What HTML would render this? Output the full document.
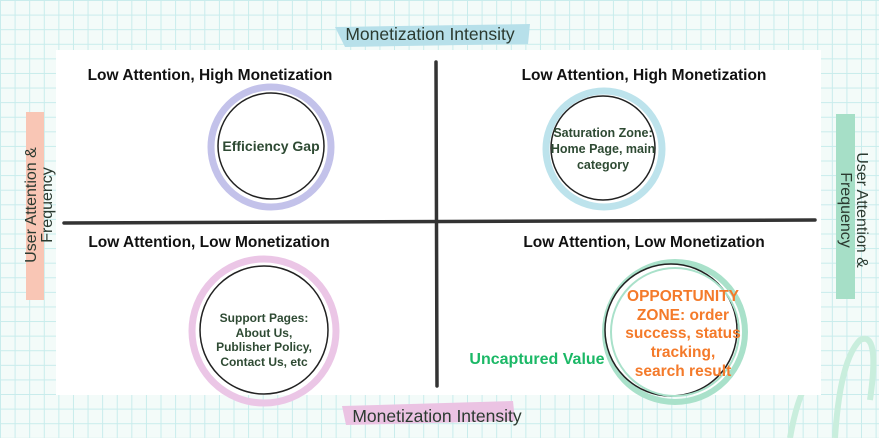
<!DOCTYPE html>
<html><head><meta charset="utf-8"><style>
html,body{margin:0;padding:0;width:879px;height:438px;overflow:hidden}
body{background-color:#f3fbf9;background-image:linear-gradient(#c8ecec 1px,transparent 1px),linear-gradient(90deg,#c8ecec 1px,transparent 1px);background-size:14.6px 14.6px}
svg{position:absolute;left:0;top:0}
text{font-family:"Liberation Sans",sans-serif}
</style></head><body>
<svg width="879" height="438" viewBox="0 0 879 438">
<path d="M790 438 Q800 380 820 370 M835 438 Q840 360 860 340 Q880 330 870 400" stroke="#c9eedd" stroke-width="6" fill="none"/>
<rect x="56" y="50" width="765" height="345" fill="#fff"/>
<path d="M335 27 L530 24 L528 44 L345 47 Z" fill="#b7e0ea"/>
<path d="M342 406 L513 401 L515 421 L346 425 Z" fill="#ebc3e3"/>
<rect x="26" y="112" width="18" height="188" fill="#f9c6b5"/>
<rect x="836" y="114" width="19" height="185" fill="#a6dfc7"/>
<text x="430" y="40" font-size="17.5" fill="#2b3a30" text-anchor="middle">Monetization Intensity</text>
<text x="437" y="422" font-size="17.5" fill="#2b3a30" text-anchor="middle">Monetization Intensity</text>
<text transform="translate(36,205) rotate(-90)" font-size="16" fill="#2b3a30" text-anchor="middle">User Attention &amp;</text>
<text transform="translate(52,205) rotate(-90)" font-size="16" fill="#2b3a30" text-anchor="middle">Frequency</text>
<text transform="translate(857,210) rotate(90)" font-size="16" fill="#2b3a30" text-anchor="middle">User Attention &amp;</text>
<text transform="translate(841,210) rotate(90)" font-size="16" fill="#2b3a30" text-anchor="middle">Frequency</text>
<line x1="64" y1="223" x2="815" y2="220" stroke="#333" stroke-width="3.5" stroke-linecap="round"/>
<line x1="436" y1="62" x2="437" y2="386" stroke="#333" stroke-width="3.5" stroke-linecap="round"/>
<g font-size="15.5" font-weight="bold" fill="#111" text-anchor="middle">
<text x="210" y="80">Low Attention, High Monetization</text>
<text x="644" y="80">Low Attention, High Monetization</text>
<text x="209" y="247">Low Attention, Low Monetization</text>
<text x="644" y="247">Low Attention, Low Monetization</text>
</g>
<circle cx="271" cy="147" r="60" fill="none" stroke="#c3c2ea" stroke-width="7"/>
<circle cx="271" cy="146" r="53" fill="#fff" stroke="#222" stroke-width="1.5"/>
<circle cx="604" cy="149" r="58" fill="none" stroke="#bde3ec" stroke-width="7"/>
<circle cx="603" cy="148" r="52" fill="#fff" stroke="#222" stroke-width="1.5"/>
<circle cx="264" cy="331" r="72" fill="none" stroke="#ebc6e6" stroke-width="7"/>
<circle cx="264" cy="330" r="64" fill="#fff" stroke="#222" stroke-width="1.5"/>
<circle cx="675" cy="332" r="70" fill="none" stroke="#a9e1ca" stroke-width="6"/>
<circle cx="671" cy="330" r="66" fill="#fff" stroke="#222" stroke-width="1.5"/>
<circle cx="675" cy="332" r="64" fill="none" stroke="#a9e1ca" stroke-width="2"/>
<g font-size="14" fill="#2e4a33" text-anchor="middle" font-weight="bold">
<text x="271" y="151">Efficiency Gap</text>
</g>
<g font-size="12.5" fill="#2e4a33" text-anchor="middle" font-weight="bold">
<text x="603" y="137">Saturation Zone:</text>
<text x="603" y="153">Home Page, main</text>
<text x="603" y="169">category</text>
</g>
<g font-size="12" fill="#2e4a33" text-anchor="middle" font-weight="bold">
<text x="264" y="322">Support Pages:</text>
<text x="264" y="337">About Us,</text>
<text x="264" y="351">Publisher Policy,</text>
<text x="264" y="366">Contact Us, etc</text>
</g>
<g font-size="15.5" fill="#f47a2a" text-anchor="middle" font-weight="bold">
<text x="683" y="301">OPPORTUNITY</text>
<text x="683" y="320">ZONE: order</text>
<text x="683" y="338">success, status</text>
<text x="683" y="357">tracking,</text>
<text x="683" y="376">search result</text>
</g>
<text x="537" y="364" font-size="16" font-weight="bold" fill="#1bb866" text-anchor="middle">Uncaptured Value</text>
</svg>
</body></html>
